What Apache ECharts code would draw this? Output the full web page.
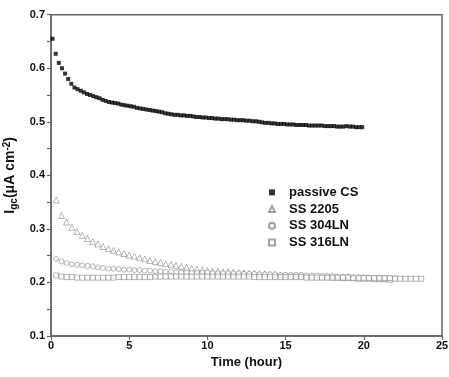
<!DOCTYPE html>
<html><head><meta charset="utf-8">
<script src="https://cdn.jsdelivr.net/npm/echarts@6/dist/echarts.min.js"></script>
<style>html,body{margin:0;padding:0;background:#fff}#c{width:449px;height:377px}</style>
</head><body><div id="c"></div>
<script>
// Passive CS: time (h) and I_gc
const csTime = [0.1,0.3,0.5,0.7,0.9,1.1,1.3,1.5,1.7,1.9,2.1,2.3,2.5,2.7,2.9,3.1,3.3,3.5,3.7,3.9,4.1,4.3,4.5,4.7,4.9,5.1,5.3,5.5,5.7,5.9,6.1,6.3,6.5,6.7,6.9,7.1,7.3,7.5,7.7,7.9,8.1,8.3,8.5,8.7,8.9,9.1,9.3,9.5,9.7,9.9,10.1,10.3,10.5,10.7,10.9,11.1,11.3,11.5,11.7,11.9,12.1,12.3,12.5,12.7,12.9,13.1,13.3,13.5,13.7,13.9,14.1,14.3,14.5,14.7,14.9,15.1,15.3,15.5,15.7,15.9,16.1,16.3,16.5,16.7,16.9,17.1,17.3,17.5,17.7,17.9,18.1,18.3,18.5,18.7,18.9,19.1,19.3,19.5,19.7,19.9];
const csVal = [0.655,0.627,0.610,0.600,0.590,0.580,0.571,0.564,0.561,0.558,0.555,0.552,0.550,0.548,0.546,0.544,0.541,0.539,0.537,0.536,0.535,0.534,0.532,0.531,0.530,0.529,0.528,0.526,0.525,0.524,0.523,0.522,0.521,0.520,0.519,0.518,0.516,0.515,0.514,0.513,0.513,0.512,0.512,0.511,0.511,0.510,0.509,0.509,0.508,0.508,0.507,0.507,0.506,0.506,0.505,0.505,0.505,0.504,0.504,0.503,0.503,0.503,0.502,0.502,0.501,0.501,0.500,0.499,0.498,0.498,0.497,0.497,0.496,0.496,0.496,0.495,0.495,0.495,0.494,0.494,0.494,0.494,0.493,0.493,0.493,0.493,0.493,0.492,0.492,0.492,0.492,0.491,0.491,0.491,0.492,0.491,0.491,0.490,0.490,0.490];

// Stainless steels: sampled every 20 min
const ssTime = [0.33,0.67,1.00,1.33,1.67,2.00,2.33,2.67,3.00,3.33,3.67,4.00,4.33,4.67,5.00,5.33,5.67,6.00,6.33,6.67,7.00,7.33,7.67,8.00,8.33,8.67,9.00,9.33,9.67,10.00,10.33,10.67,11.00,11.33,11.67,12.00,12.33,12.67,13.00,13.33,13.67,14.00,14.33,14.67,15.00,15.33,15.67,16.00,16.33,16.67,17.00,17.33,17.67,18.00,18.33,18.67,19.00,19.33,19.67,20.00,20.33,20.67,21.00,21.33,21.67,22.00,22.33,22.67,23.00,23.33,23.67];
const ss2205 = [0.354,0.325,0.313,0.303,0.295,0.288,0.282,0.276,0.272,0.267,0.263,0.260,0.257,0.254,0.251,0.249,0.246,0.244,0.241,0.239,0.237,0.235,0.234,0.232,0.230,0.228,0.226,0.225,0.224,0.222,0.221,0.221,0.220,0.220,0.219,0.218,0.218,0.217,0.217,0.216,0.216,0.215,0.215,0.214,0.214,0.213,0.213,0.213,0.212,0.212,0.211,0.211,0.211,0.210,0.210,0.209,0.209,0.209,0.208,0.208,0.208,0.207,0.207,0.207,0.206];
const ss304 = [0.244,0.239,0.236,0.234,0.233,0.232,0.231,0.230,0.228,0.227,0.226,0.226,0.225,0.224,0.224,0.223,0.223,0.222,0.222,0.221,0.221,0.220,0.220,0.219,0.219,0.219,0.218,0.218,0.218,0.218,0.217,0.217,0.217,0.217,0.217,0.217,0.216,0.216,0.216,0.215,0.215,0.215,0.215,0.214,0.214,0.214,0.214,0.214,0.213,0.213,0.213,0.212,0.212,0.212,0.211,0.211,0.211,0.210,0.210,0.210,0.209,0.209,0.209,0.208,0.208,0.208];
const ss316 = [0.213,0.211,0.210,0.210,0.209,0.209,0.209,0.209,0.209,0.209,0.209,0.209,0.210,0.210,0.210,0.210,0.210,0.210,0.210,0.211,0.211,0.211,0.211,0.211,0.211,0.211,0.211,0.211,0.211,0.211,0.211,0.211,0.211,0.211,0.211,0.211,0.211,0.211,0.210,0.210,0.210,0.210,0.210,0.210,0.210,0.210,0.210,0.210,0.209,0.209,0.209,0.209,0.209,0.209,0.209,0.209,0.209,0.208,0.208,0.208,0.208,0.208,0.208,0.208,0.208,0.207,0.207,0.207,0.207,0.207,0.207];

const xTicks = [0,5,10,15,20,25];
const yTicks = [0.1,0.2,0.3,0.4,0.5,0.6,0.7];

const zip = (t, v) => v.map((y, i) => [t[i], y]);
const FONT = '"Liberation Sans", Arial, sans-serif';
const AX = '#666';

const chart = echarts.init(document.getElementById('c'), null, {renderer: 'canvas'});
const hollow = {color: '#fff', borderColor: '#8a8a8a', borderWidth: 0.8};
chart.setOption({
  animation: false,
  backgroundColor: '#fff',
  grid: {left: 51, right: 7, top: 14.7, bottom: 41, show: true, borderColor: AX, borderWidth: 1.5,
    containLabel: false, outerBoundsMode: 'none'},
  legend: {
    orient: 'vertical', left: 263, top: 180, itemGap: 2, itemWidth: 6, itemHeight: 6,
    textStyle: {fontFamily: FONT, fontWeight: 'bold', fontSize: 13, color: '#111', lineHeight: 14.7,
      padding: [0, 0, 0, 9]},
    data: ['passive CS', 'SS 2205', 'SS 304LN', 'SS 316LN']
  },
  xAxis: {
    type: 'value', min: xTicks[0], max: xTicks[xTicks.length - 1], interval: 5,
    name: 'Time (hour)', nameLocation: 'middle', nameGap: 20,
    nameTextStyle: {fontFamily: FONT, fontWeight: 'bold', fontSize: 13, color: '#111'},
    axisLine: {lineStyle: {color: AX, width: 1.5}},
    axisTick: {inside: false, length: 4, lineStyle: {color: AX, width: 1.2}},
    axisLabel: {fontFamily: FONT, fontWeight: 'bold', fontSize: 11, color: '#111', margin: 4},
    splitLine: {show: false}
  },
  yAxis: {
    type: 'value', min: yTicks[0], max: yTicks[yTicks.length - 1], interval: 0.1,
    name: '{m|I}{s|gc}{m|(μA cm}{p|-2}{m|)}', nameLocation: 'middle', nameGap: 30, nameRotate: 90,
    nameTextStyle: {
      fontFamily: FONT, fontWeight: 'bold', fontSize: 14, color: '#111',
      rich: {
        m: {fontFamily: FONT, fontWeight: 'bold', fontSize: 14, color: '#111'},
        s: {fontFamily: FONT, fontWeight: 'bold', fontSize: 10, color: '#111', verticalAlign: 'bottom', padding: [7, 0, 0, 0]},
        p: {fontFamily: FONT, fontWeight: 'bold', fontSize: 10, color: '#111', verticalAlign: 'top', padding: [0, 0, 7, 0]}
      }
    },
    axisLine: {lineStyle: {color: AX, width: 1.5}},
    axisTick: {inside: false, length: 4, lineStyle: {color: AX, width: 1.2}},
    minorTick: {show: true, splitNumber: 2, length: 4, lineStyle: {color: AX, width: 1.2}},
    axisLabel: {fontFamily: FONT, fontWeight: 'bold', fontSize: 11, color: '#111', margin: 6,
      formatter: v => v.toFixed(1)},
    splitLine: {show: false}
  },
  series: [
    {name: 'passive CS', type: 'scatter', symbol: 'rect', symbolSize: 4,
     itemStyle: {color: '#000'}, data: zip(csTime, csVal)},
    {name: 'SS 2205', type: 'scatter', symbol: 'triangle', symbolSize: 6,
     itemStyle: hollow, data: zip(ssTime, ss2205)},
    {name: 'SS 304LN', type: 'scatter', symbol: 'circle', symbolSize: 5,
     itemStyle: hollow, data: zip(ssTime, ss304)},
    {name: 'SS 316LN', type: 'scatter', symbol: 'rect', symbolSize: 5,
     itemStyle: hollow, data: zip(ssTime, ss316)}
  ]
});
</script></body></html>
